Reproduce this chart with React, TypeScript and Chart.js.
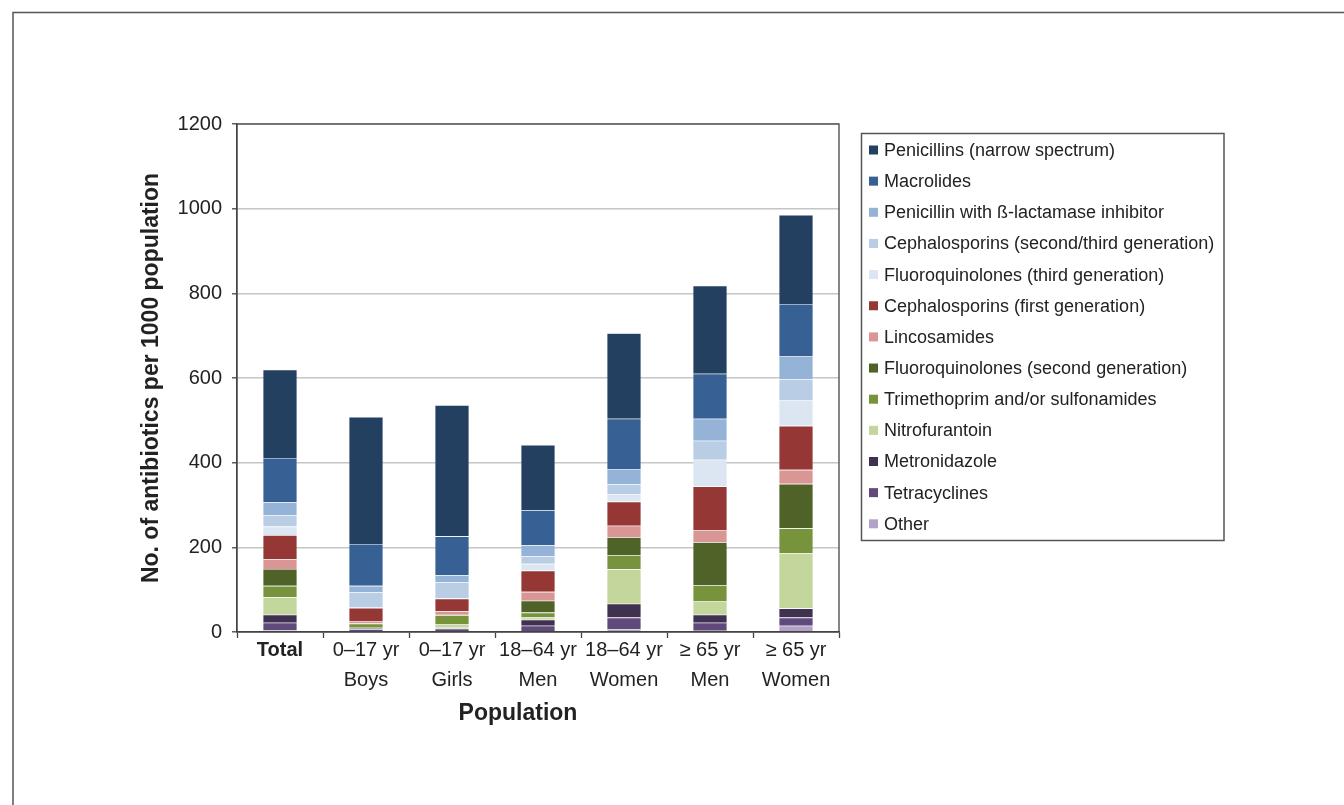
import React, { useEffect, useRef } from "react";
import { Chart, registerables } from "chart.js";

Chart.register(...registerables);

const categories: string[][] = [
  ["Total"],
  ["0–17 yr", "Boys"],
  ["0–17 yr", "Girls"],
  ["18–64 yr", "Men"],
  ["18–64 yr", "Women"],
  ["≥ 65 yr", "Men"],
  ["≥ 65 yr", "Women"],
];

// values per 1000 population, order: Total, Boys, Girls, Men 18-64, Women 18-64, Men >=65, Women >=65
const penicillinsNarrow = [209, 300, 310, 154, 202, 208, 210];
const macrolides = [104, 99, 92, 83, 119, 106, 124];
const penicillinBeta = [31, 15, 16, 26, 36, 52, 54];
const cephSecondThird = [27, 36, 38, 18, 24, 45, 49];
const fluoroThird = [20, 1, 1, 16, 17, 63, 61];
const cephFirst = [57, 31, 30, 50, 57, 104, 104];
const lincosamides = [23, 5, 8, 21, 27, 28, 33];
const fluoroSecond = [40, 1, 1, 28, 43, 102, 105];
const trimethoprim = [27, 10, 22, 12, 33, 38, 59];
const nitrofurantoin = [41, 1, 8, 5, 81, 31, 130];
const metronidazole = [19, 2, 2, 14, 33, 19, 22];
const tetracyclines = [17, 6, 6, 13, 28, 19, 19];
const other = [5, 1, 2, 2, 6, 3, 15];

const yTicks = [0, 200, 400, 600, 800, 1000, 1200];

// stacked bottom -> top
const seriesNames = [
  "Other",
  "Tetracyclines",
  "Metronidazole",
  "Nitrofurantoin",
  "Trimethoprim and/or sulfonamides",
  "Fluoroquinolones (second generation)",
  "Lincosamides",
  "Cephalosporins (first generation)",
  "Fluoroquinolones (third generation)",
  "Cephalosporins (second/third generation)",
  "Penicillin with ß-lactamase inhibitor",
  "Macrolides",
  "Penicillins (narrow spectrum)",
];
const seriesValues = [
  other,
  tetracyclines,
  metronidazole,
  nitrofurantoin,
  trimethoprim,
  fluoroSecond,
  lincosamides,
  cephFirst,
  fluoroThird,
  cephSecondThird,
  penicillinBeta,
  macrolides,
  penicillinsNarrow,
];
const seriesColors = [
  "#B3A2C7",
  "#604A7B",
  "#403151",
  "#C3D69B",
  "#77933C",
  "#4F6228",
  "#D99694",
  "#953735",
  "#DCE6F2",
  "#B9CDE5",
  "#95B3D7",
  "#376095",
  "#244061",
];

const FONT = "'Liberation Sans', Arial, Helvetica, sans-serif";
const TEXT = "#222222";

const decorPlugin = {
  id: "decor",
  beforeDraw(chart: any) {
    const ctx = chart.ctx;
    ctx.save();
    ctx.strokeStyle = "#555555";
    ctx.lineWidth = 1.5;
    ctx.beginPath();
    ctx.moveTo(13, 805);
    ctx.lineTo(13, 12.5);
    ctx.lineTo(1344, 12.5);
    ctx.stroke();
    ctx.restore();
  },
  afterDraw(chart: any) {
    const ctx = chart.ctx;
    const a = chart.chartArea;
    ctx.save();
    // plot frame
    ctx.strokeStyle = "#444444";
    ctx.lineWidth = 1.3;
    ctx.strokeRect(a.left, a.top, a.right - a.left, a.bottom - a.top);

    // axis titles
    ctx.fillStyle = TEXT;
    ctx.font = `bold 23px ${FONT}`;
    ctx.textAlign = "center";
    ctx.textBaseline = "middle";
    ctx.fillText("Population", 518, 714);
    ctx.translate(152, 378);
    ctx.rotate(-Math.PI / 2);
    ctx.fillText("No. of antibiotics per 1000 population", 0, 0);
    ctx.restore();

    // legend
    ctx.save();
    const lx = 861.5, ly = 133.5, lw = 362.5, lh = 407;
    ctx.fillStyle = "#ffffff";
    ctx.fillRect(lx, ly, lw, lh);
    ctx.strokeStyle = "#555555";
    ctx.lineWidth = 1.5;
    ctx.strokeRect(lx, ly, lw, lh);
    ctx.font = `18px ${FONT}`;
    ctx.textAlign = "left";
    ctx.textBaseline = "middle";
    const n = seriesNames.length;
    for (let i = 0; i < n; i++) {
      const idx = n - 1 - i;
      const cy = 150 + i * 31.15;
      ctx.fillStyle = seriesColors[idx];
      ctx.fillRect(869, cy - 4.5, 9, 9);
      ctx.fillStyle = TEXT;
      ctx.fillText(seriesNames[idx], 884, cy + 1);
    }
    ctx.restore();
  },
};

export default function App() {
  const ref = useRef<HTMLCanvasElement | null>(null);

  useEffect(() => {
    if (!ref.current) return;
    const chart = new Chart(ref.current, {
      type: "bar",
      data: {
        labels: categories,
        datasets: seriesNames.map((name, i) => ({
          label: name,
          data: seriesValues[i],
          backgroundColor: seriesColors[i],
          borderColor: "rgba(235,240,248,0.3)",
          borderWidth: 0.6,
          barPercentage: 0.4,
          categoryPercentage: 1,
        })),
      },
      options: {
        responsive: false,
        animation: false,
        devicePixelRatio: 1,
        layout: { padding: { top: 124, right: 505, bottom: 0, left: 0 } },
        plugins: {
          legend: { display: false },
          tooltip: { enabled: false },
          title: { display: false },
        },
        scales: {
          x: {
            stacked: true,
            afterFit: (scale: any) => {
              scale.height = 173;
            },
            grid: {
              offset: true,
              drawOnChartArea: false,
              drawTicks: true,
              tickLength: 6,
              tickColor: "#444444",
              tickWidth: 1.3,
            },
            border: { display: true, color: "#444444", width: 1.3 },
            ticks: {
              color: TEXT,
              padding: -3,
              maxRotation: 0,
              autoSkip: false,
              font: (c: any) => ({
                family: FONT,
                size: 20,
                weight: c.index === 0 ? "bold" : "normal",
                lineHeight: 1.5,
              }),
            },
          },
          y: {
            stacked: true,
            min: 0,
            max: 1200,
            afterFit: (scale: any) => {
              scale.width = 237;
            },
            afterBuildTicks: (scale: any) => {
              scale.ticks = yTicks.map((v) => ({ value: v }));
            },
            grid: {
              color: "#c6c6c6",
              lineWidth: 1.6,
              drawTicks: true,
              tickLength: 5,
              tickColor: "#444444",
              tickWidth: 1.3,
            },
            border: { display: true, color: "#444444", width: 1.3 },
            ticks: {
              color: TEXT,
              padding: 10,
              font: { family: FONT, size: 20 },
              callback: (v: any) => String(v),
            },
          },
        },
      },
      plugins: [decorPlugin],
    });
    return () => chart.destroy();
  }, []);

  return (
    <div style={{ position: "fixed", left: 0, top: 0, width: 1344, height: 805, background: "#ffffff" }}>
      <canvas ref={ref} width={1344} height={805} style={{ display: "block" }} />
    </div>
  );
}
